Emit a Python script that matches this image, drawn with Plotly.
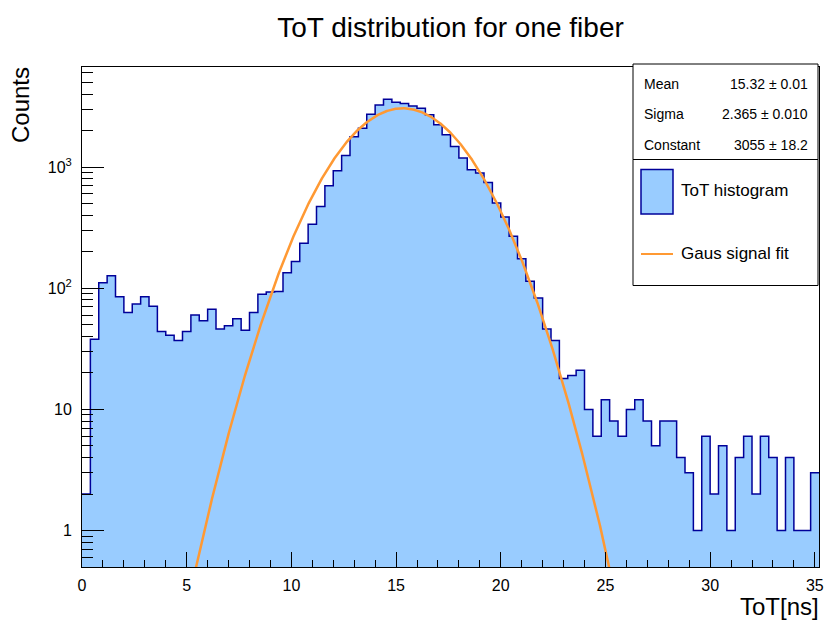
import numpy as np
import plotly.graph_objects as go

# ToT histogram: 88 bins of 0.4 ns starting at 0 ns
bin_width = 0.4
counts = [
    2, 38, 111, 127, 85, 63, 74, 85, 71, 44,
    41, 37, 44, 60, 54, 67, 46, 49, 56, 45,
    63, 89, 93, 94, 134, 166, 235, 337, 473, 701,
    933, 1246, 1777, 2095, 2733, 3260, 3630, 3427, 3344, 3198,
    3062, 2698, 2230, 1844, 1479, 1186, 950, 893, 747, 505,
    387, 268, 175, 114, 83, 46, 37, 18, 19, 21,
    10, 6, 12, 8, 6, 10, 12, 8, 5, 8,
    8, 4, 3, 1, 6, 2, 5, 1, 4, 6,
    2, 6, 4, 1, 4, 1, 1, 3,
]

# Gaussian signal fit results
fit_names = ["Mean", "Sigma", "Constant"]
fit_values = [15.32, 2.365, 3055]
fit_errors = [0.01, 0.010, 18.2]
fit_texts = ["15.32 \u00b1 0.01", "2.365 \u00b1 0.010", "3055 \u00b1 18.2"]

x_ticks = [0, 5, 10, 15, 20, 25, 30, 35]
y_ticks = [1, 10, 100, 1000]
y_ticktext = ["1", "10", "10<sup>2</sup>", "10<sup>3</sup>"]

FONT = "Liberation Sans, Arial, Helvetica, sans-serif"
FILL = "#99ccff"
EDGE = "#000099"
ORANGE = "#ff9933"

W, H = 825, 623
L, R, T, B = 82, 6, 67, 56
PW, PH = W - L - R, H - T - B


def px(xp):
    return (xp - L) / PW


def py(yp):
    return (H - B - yp) / PH


n = len(counts)
edges = np.arange(n + 1) * bin_width
centers = edges[:-1] + bin_width / 2
x_max = edges[-1]

mean, sigma, const = fit_values
xf = np.linspace(0, x_max, 1500)
yf = const * np.exp(-0.5 * ((xf - mean) / sigma) ** 2)

fig = go.Figure()
fig.add_trace(go.Bar(
    x=centers, y=counts, width=bin_width,
    marker=dict(color=FILL, line=dict(width=0)),
    showlegend=False, hoverinfo="skip",
))
fig.add_trace(go.Scatter(
    x=list(edges), y=list(counts) + [counts[-1]],
    mode="lines", line=dict(color=EDGE, width=1.5, shape="hv"),
    showlegend=False, hoverinfo="skip",
))
fig.add_trace(go.Scatter(
    x=xf, y=yf, mode="lines",
    line=dict(color=ORANGE, width=2.5),
    showlegend=False, hoverinfo="skip",
))

# minor ticks on the log axis
y_minor = []
for dec in [0.1, 1, 10, 100, 1000]:
    for m in range(2, 10):
        v = m * dec
        if 0.5 < v < 6700 and v not in y_ticks:
            y_minor.append(v)

fig.update_layout(
    width=W, height=H,
    margin=dict(l=L, r=R, t=T, b=B),
    paper_bgcolor="white", plot_bgcolor="white",
    font=dict(family=FONT, color="black"),
    bargap=0,
    title=dict(text="ToT distribution for one fiber", x=0.5, xref="paper",
               y=1 - 27 / H, yanchor="middle", xanchor="center",
               font=dict(size=28, family=FONT, color="black")),
    xaxis=dict(
        range=[0, x_max], showline=True, mirror=True, linecolor="black", linewidth=1,
        ticks="inside", ticklen=15, tickwidth=1, tickcolor="black",
        tickmode="array", tickvals=x_ticks, tickfont=dict(size=16),
        minor=dict(ticks="inside", ticklen=7.5, tickcolor="black", tickwidth=1,
                   tickmode="array", tickvals=list(range(0, 36))),
        showgrid=False, zeroline=False, ticklabelstandoff=4, automargin=False,
    ),
    yaxis=dict(
        type="log", range=[np.log10(0.5), 3.826],
        showline=True, mirror=True, linecolor="black", linewidth=1,
        ticks="inside", ticklen=22, tickwidth=1, tickcolor="black",
        tickmode="array", tickvals=y_ticks, ticktext=y_ticktext,
        tickfont=dict(size=16),
        minor=dict(ticks="inside", ticklen=11, tickcolor="black", tickwidth=1,
                   tickmode="array", tickvals=y_minor),
        showgrid=False, zeroline=False, ticklabelstandoff=6, automargin=False,
    ),
)

shapes = []
annotations = []

# axis titles
annotations.append(dict(text="Counts", textangle=-90, xref="paper", yref="paper",
                        x=px(20), y=py(65), xanchor="center", yanchor="top",
                        showarrow=False, font=dict(size=24, family=FONT)))
annotations.append(dict(text="ToT[ns]", xref="paper", yref="paper",
                        x=px(821), y=py(606), xanchor="right", yanchor="middle",
                        showarrow=False, font=dict(size=24, family=FONT)))

# statistics box
bx0, bx1 = 633, 818
shapes.append(dict(type="rect", xref="paper", yref="paper",
                   x0=px(bx0), x1=px(bx1), y0=py(64), y1=py(159.5),
                   fillcolor="white", line=dict(color="black", width=1), layer="above"))
for name, txt, yy in zip(fit_names, fit_texts, [84, 114, 145]):
    annotations.append(dict(text=name, xref="paper", yref="paper", x=px(642), y=py(yy),
                            xanchor="left", yanchor="middle", showarrow=False,
                            font=dict(size=14, family=FONT)))
    annotations.append(dict(text=txt, xref="paper", yref="paper", x=px(810), y=py(yy),
                            xanchor="right", yanchor="middle", showarrow=False,
                            font=dict(size=14, family=FONT)))

# legend box
shapes.append(dict(type="rect", xref="paper", yref="paper",
                   x0=px(bx0), x1=px(bx1), y0=py(159.5), y1=py(285.5),
                   fillcolor="white", line=dict(color="black", width=1), layer="above"))
shapes.append(dict(type="rect", xref="paper", yref="paper",
                   x0=px(641), x1=px(673), y0=py(169.5), y1=py(214),
                   fillcolor=FILL, line=dict(color=EDGE, width=1.5), layer="above"))
shapes.append(dict(type="line", xref="paper", yref="paper",
                   x0=px(641), x1=px(673), y0=py(254), y1=py(254),
                   line=dict(color=ORANGE, width=2), layer="above"))
annotations.append(dict(text="ToT histogram", xref="paper", yref="paper", x=px(679), y=py(190),
                        xanchor="left", yanchor="middle", showarrow=False,
                        font=dict(size=17, family=FONT)))
annotations.append(dict(text="Gaus signal fit", xref="paper", yref="paper", x=px(679), y=py(253),
                        xanchor="left", yanchor="middle", showarrow=False,
                        font=dict(size=17, family=FONT)))

fig.update_layout(shapes=shapes, annotations=annotations)
fig.write_html("out.html")
